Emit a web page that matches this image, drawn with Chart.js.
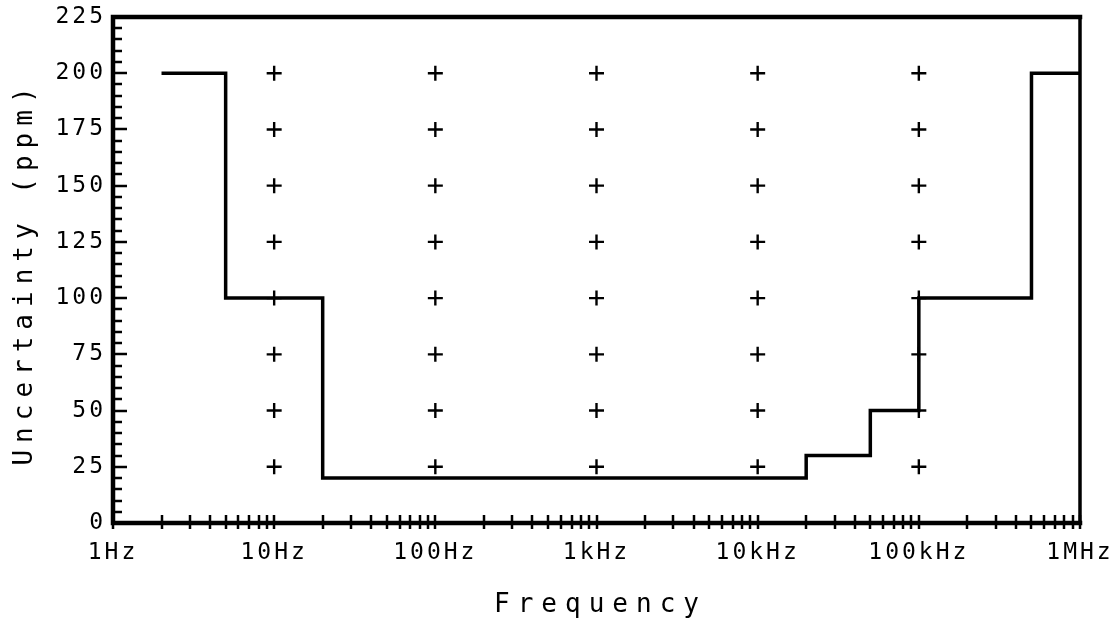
<!DOCTYPE html>
<html>
<head>
<meta charset="utf-8">
<script src="https://cdn.jsdelivr.net/npm/chart.js@4/dist/chart.umd.min.js"></script>
<style>
  html, body { margin: 0; padding: 0; background: #fff; }
  #wrap { width: 1120px; height: 622px; position: relative; }
</style>
</head>
<body>
<div id="wrap"><canvas id="c" width="1120" height="622"></canvas></div>
<script>
// ---- data ----
const stepFreqs  = [2, 5, 20, 20000, 50000, 100000, 500000, 1000000];
const stepPpm    = [200, 100, 20, 30, 50, 100, 200, 200];
const markerFreqs  = [10, 100, 1000, 10000, 100000];
const markerLevels = [25, 50, 75, 100, 125, 150, 175, 200];
const xTickValues = [1, 10, 100, 1000, 10000, 100000, 1000000];
const xTickLabels = ['1Hz', '10Hz', '100Hz', '1kHz', '10kHz', '100kHz', '1MHz'];
const yTickValues = [0, 25, 50, 75, 100, 125, 150, 175, 200, 225];
const xTitle = 'Frequency';
const yTitle = 'Uncertainty (ppm)';

const stepData = stepFreqs.map((f, i) => ({ x: f, y: stepPpm[i] }));
const markerData = [];
markerFreqs.forEach(f => markerLevels.forEach(l => markerData.push({ x: f, y: l })));

const FONT = "'DejaVu Sans Mono', 'Liberation Mono', monospace";

const framePlugin = {
  id: 'frame',
  beforeDraw(chart) {
    chart.ctx.letterSpacing = '3px';
  },
  afterDraw(chart) {
    const ctx = chart.ctx;
    const a = chart.chartArea;
    const xs = chart.scales.x, ys = chart.scales.y;
    ctx.save();
    ctx.strokeStyle = '#000';
    ctx.lineCap = 'square';
    // frame
    ctx.lineWidth = 4.5;
    ctx.beginPath();
    ctx.moveTo(a.left, a.bottom); ctx.lineTo(a.left, a.top); ctx.lineTo(a.right, a.top);
    ctx.moveTo(a.left, a.bottom); ctx.lineTo(a.right, a.bottom);
    ctx.stroke();
    ctx.lineWidth = 3.5;
    ctx.beginPath();
    ctx.moveTo(a.right, a.top); ctx.lineTo(a.right, a.bottom);
    ctx.stroke();
    // y ticks (inward), minor every 5
    ctx.lineWidth = 2.5;
    ctx.lineCap = 'butt';
    ctx.beginPath();
    for (let v = ys.min; v <= ys.max; v += 5) {
      const y = Math.round(ys.getPixelForValue(v));
      const len = (v % 25 === 0) ? 14 : 9;
      ctx.moveTo(a.left, y); ctx.lineTo(a.left + len, y);
    }
    // x ticks (crossing the axis), decades + 2..9
    for (let d = 1; d < xs.max; d *= 10) {
      for (let m = 1; m <= 10; m++) {
        const x = Math.round(xs.getPixelForValue(d * m));
        ctx.moveTo(x, a.bottom - 8); ctx.lineTo(x, a.bottom + 6);
      }
    }
    ctx.stroke();
    // axis titles
    ctx.fillStyle = '#000';
    ctx.font = '26px ' + FONT;
    ctx.letterSpacing = '8px';
    ctx.textAlign = 'center';
    ctx.textBaseline = 'alphabetic';
    ctx.fillText(xTitle, (a.left + a.right) / 2 + 4, 612);
    ctx.translate(32, 277);
    ctx.rotate(-Math.PI / 2);
    ctx.letterSpacing = '7px';
    ctx.fillText(yTitle, 4, 0);
    ctx.restore();
  }
};

new Chart(document.getElementById('c'), {
  type: 'scatter',
  data: {
    datasets: [
      {
        data: stepData,
        showLine: true,
        stepped: 'before',
        borderColor: '#000',
        borderWidth: 3.5,
        pointRadius: 0,
        fill: false
      },
      {
        data: markerData,
        showLine: false,
        pointStyle: 'cross',
        pointRadius: 7.5,
        pointBorderWidth: 2.4,
        borderColor: '#000',
        backgroundColor: '#000'
      }
    ]
  },
  options: {
    responsive: false,
    animation: false,
    devicePixelRatio: 1,
    layout: { padding: { top: 17, right: 40, left: 0, bottom: 0 } },
    plugins: { legend: { display: false }, tooltip: { enabled: false } },
    scales: {
      x: {
        type: 'logarithmic',
        min: 1, max: 1000000,
        grid: { display: false, drawTicks: false },
        border: { display: false },
        afterBuildTicks: (s) => { s.ticks = xTickValues.map(v => ({ value: v })); },
        afterFit: (s) => { s.height = 99; s.paddingLeft = 0; s.paddingRight = 0; },
        ticks: {
          autoSkip: false, maxRotation: 0, minRotation: 0,
          padding: 16,
          color: '#000',
          font: { family: FONT, size: 23 },
          callback: (v, i) => xTickLabels[i]
        }
      },
      y: {
        type: 'linear',
        min: 0, max: 225,
        grid: { display: false, drawTicks: false },
        border: { display: false },
        afterBuildTicks: (s) => { s.ticks = yTickValues.map(v => ({ value: v })); },
        afterFit: (s) => { s.width = 113; s.paddingTop = 0; s.paddingBottom = 0; },
        ticks: {
          padding: 7,
          color: '#000',
          font: { family: FONT, size: 23 },
          callback: (v) => String(v)
        }
      }
    }
  },
  plugins: [framePlugin]
});
</script>
</body>
</html>
